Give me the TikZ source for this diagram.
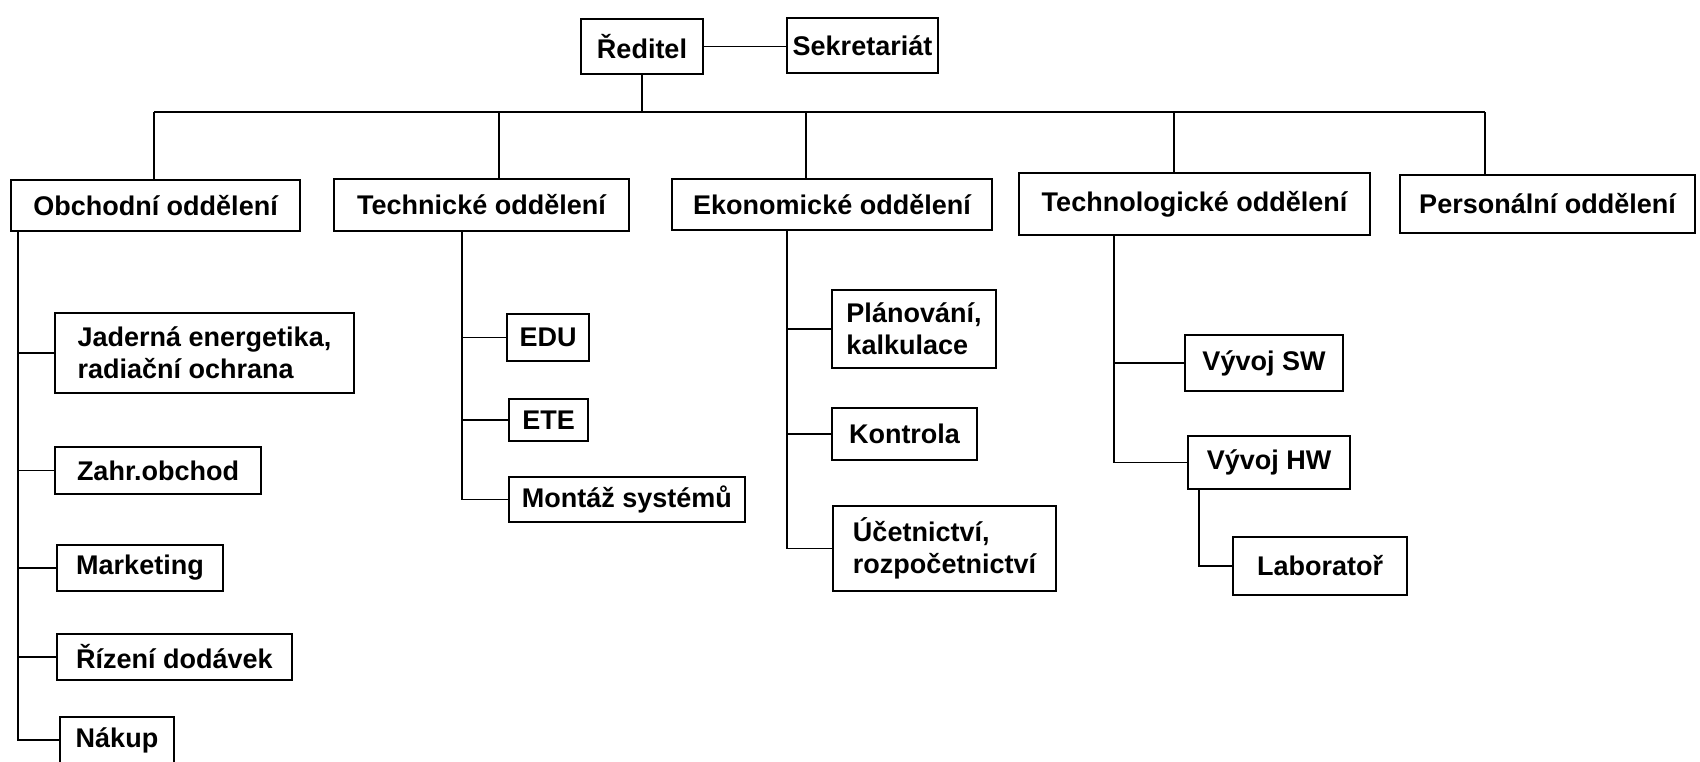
\documentclass[tikz,border=0pt]{standalone}
\usepackage{fontspec}
\setmainfont{Liberation Sans}
\usetikzlibrary{calc}

\begin{document}
\begin{tikzpicture}[x=1pt,y=-1pt,
        box/.style={draw,line width=1.8pt,inner sep=0pt,align=left,font=\bfseries\fontsize{27}{32}\selectfont},
        link/.style={draw,line width=1.8pt}]
        \useasboundingbox (0,0) rectangle (1700,761);

        \foreach \n/\x/\y/\w/\h/\t in {red/642/46.5/122/55/{Ředitel},sek/862.5/45.5/151/55/{Sekretariát},
            obch/155.5/205.5/289/51/{Obchodní oddělení},tech/481.5/205/295/52/{Technické oddělení},
            ekon/832/204.5/320/51/{Ekonomické oddělení},techn/1194.5/204/351/62/{Technologické oddělení},
            pers/1547.5/204/295/58/{Personální oddělení},
            jad/204.5/353/299/80/{Jaderná energetika,\\radiační ochrana},zahr/158/470.5/206/47/{Zahr.obchod},
            mark/140/568/166/46/{Marketing},riz/174.5/657/235/46/{Řízení dodávek},nak/117/740/114/46/{Nákup},
            edu/548/337.5/82/47/{EDU},ete/548.5/420/79/42/{ETE},mont/627/499.5/236/45/{Montáž systémů},
            plan/914/329/164/78/{Plánování,\\kalkulace},kontr/904.5/434/145/52/{Kontrola},
            ucet/944.5/548.5/223/85/{Účetnictví,\\rozpočetnictví},
            vsw/1264/363/158/56/{Vývoj SW},vhw/1269/462.5/162/53/{Vývoj HW},lab/1320/566/174/58/{Laboratoř}}{
            \node[box,minimum width=\w pt,minimum height=\h pt] (\n) at (\x,\y) {\t};
        }

        % top level
        \draw[link] (red.east) -- (red.east -| sek.west);
        \foreach [count=\i] \xb in {154,499,806,1174,1485}{
            \coordinate (b\i) at (\xb,112);
        }
        \draw[link] (red.south) -- (red.south |- b1);
        \draw[link] (b1) -- (b5);
        \foreach \b/\n in {b1/obch,b2/tech,b3/ekon,b4/techn,b5/pers}{
            \draw[link] (\b) -- (\b |- \n.north);
        }

        % departments
        \coordinate (s1) at ($(obch.south west)+(8,0)$);
        \coordinate (s2) at ($(tech.south west)+(129,0)$);
        \coordinate (s3) at ($(ekon.south west)+(116,0)$);
        \coordinate (s4) at ($(techn.south west)+(96,0)$);
        \coordinate (s5) at ($(vhw.south west)+(12,0)$);
        \foreach \s/\c in {s1/jad,s1/zahr,s1/mark,s1/riz,s1/nak,s2/edu,s2/ete,s2/mont,
            s3/plan,s3/kontr,s3/ucet,s4/vsw,s4/vhw,s5/lab}{
            \draw[link] (\s) |- (\c.west);
        }
    \end{tikzpicture}
\end{document}
